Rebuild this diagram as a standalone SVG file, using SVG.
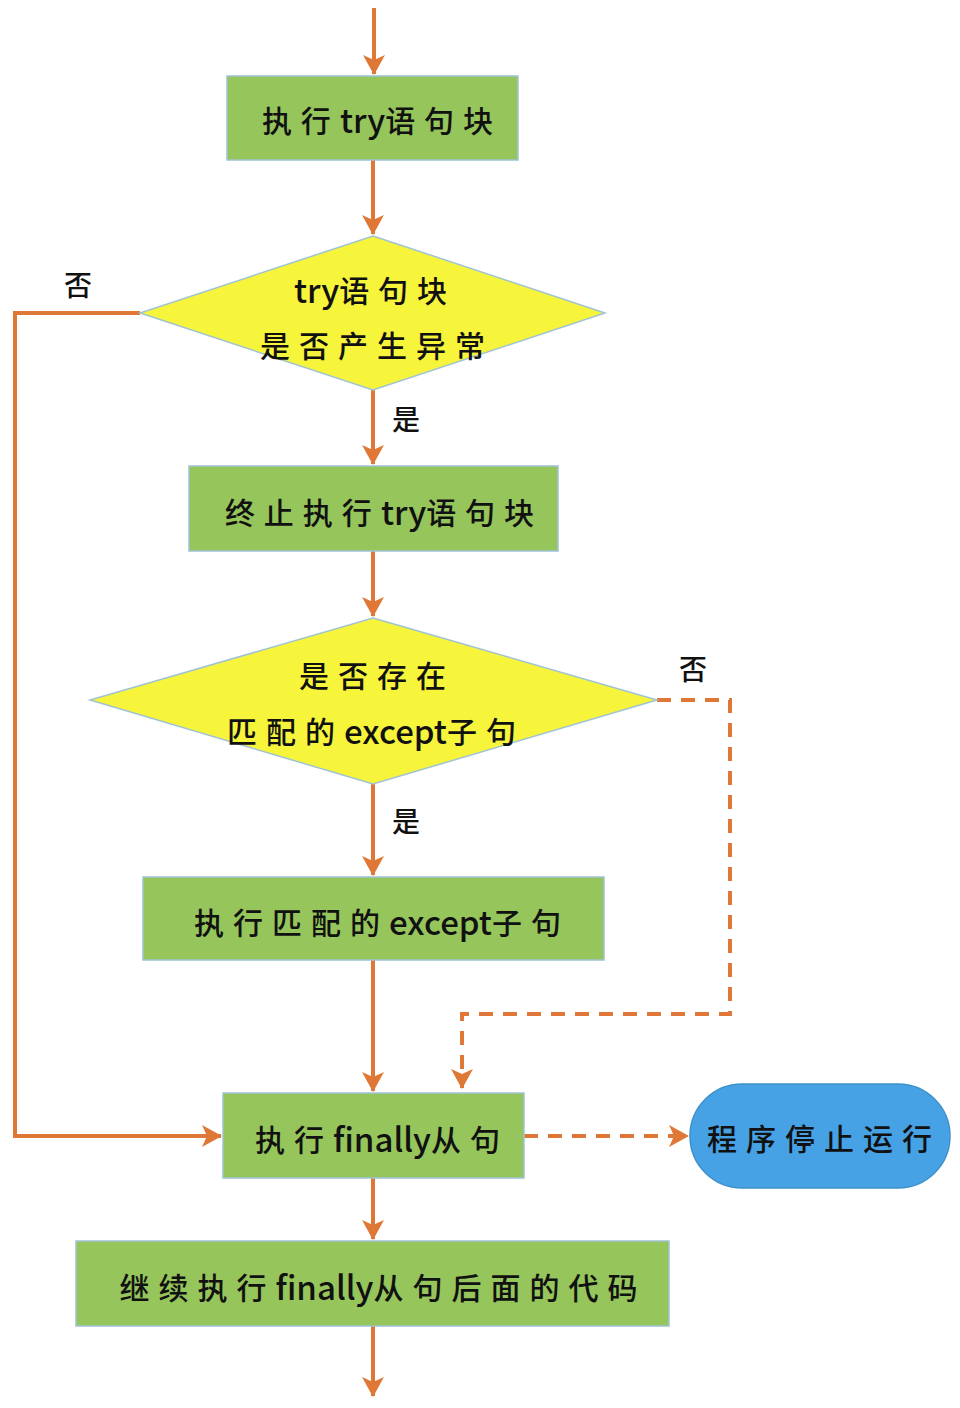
<svg xmlns="http://www.w3.org/2000/svg" width="960" height="1408" viewBox="0 0 960 1408">
<style>
.box{fill:#95c55b;stroke:#9fc3d4;stroke-width:1.5}
.dia{fill:#f7f43c;stroke:#9fc3d4;stroke-width:1.5}
.term{fill:#46a2e4;stroke:#3d92cc;stroke-width:1.5}
.t{font-family:"Noto Sans CJK SC","Noto Sans",sans-serif;font-size:30px;font-weight:500;fill:#111;text-anchor:middle;dominant-baseline:central;letter-spacing:9px}
.e{font-size:33px;letter-spacing:0px}
.lbl{font-family:"Noto Sans CJK SC","Noto Sans",sans-serif;font-size:28px;font-weight:500;fill:#111;text-anchor:middle;dominant-baseline:central}
.ln{fill:none;stroke:#df7836;stroke-width:4}
.dash{stroke-dasharray:14 10}
</style>
<defs>
<marker id="ah" viewBox="0 0 20 22" refX="19" refY="11" markerWidth="20" markerHeight="22" markerUnits="userSpaceOnUse" orient="auto">
<path d="M0,0 L20,11 L0,22 L5,11 Z" fill="#df7836"/>
</marker>
</defs>
<rect width="960" height="1408" fill="#ffffff"/>
<g id="connectors">
<path class="ln" d="M374,8 V74" marker-end="url(#ah)"/>
<path class="ln" d="M373,160 V234" marker-end="url(#ah)"/>
<path class="ln" d="M140,313 H15 V1136 H221" marker-end="url(#ah)"/>
<path class="ln" d="M373,390 V464" marker-end="url(#ah)"/>
<path class="ln" d="M373,551 V616" marker-end="url(#ah)"/>
<path class="ln dash" d="M657,700 H730 V1014 H462 V1088" marker-end="url(#ah)"/>
<path class="ln" d="M373,784 V875" marker-end="url(#ah)"/>
<path class="ln" d="M373,960 V1091" marker-end="url(#ah)"/>
<path class="ln dash" d="M524,1136 H688" marker-end="url(#ah)"/>
<path class="ln" d="M373,1178 V1239" marker-end="url(#ah)"/>
<path class="ln" d="M373,1326 V1396" marker-end="url(#ah)"/>
<text class="lbl" x="78" y="284">否</text>
<text class="lbl" x="406" y="418">是</text>
<text class="lbl" x="693" y="668">否</text>
<text class="lbl" x="406" y="820">是</text>
</g>
<g id="n1">
<rect class="box" x="227" y="76" width="291" height="84"/>
<text class="t" x="382" y="119">执行<tspan class="e">try</tspan>语句块</text>
</g>
<g id="n2">
<polygon class="dia" points="373,236 605,313 373,390 140,313"/>
<text class="t" x="375" y="289"><tspan class="e">try</tspan>语句块</text>
<text class="t" x="377" y="344">是否产生异常</text>
</g>
<g id="n3">
<rect class="box" x="189" y="466" width="369" height="85"/>
<text class="t" x="384" y="511">终止执行<tspan class="e">try</tspan>语句块</text>
</g>
<g id="n4">
<polygon class="dia" points="373,618 657,700 373,784 90,700"/>
<text class="t" x="377" y="674">是否存在</text>
<text class="t" x="376" y="730">匹配的<tspan class="e">except</tspan>子句</text>
</g>
<g id="n5">
<rect class="box" x="143" y="877" width="461" height="83"/>
<text class="t" x="382" y="921">执行匹配的<tspan class="e">except</tspan>子句</text>
</g>
<g id="n6">
<rect class="box" x="223" y="1093" width="301" height="85"/>
<text class="t" x="382" y="1138">执行<tspan class="e">finally</tspan>从句</text>
</g>
<g id="n7">
<rect class="term" x="690" y="1084" width="260" height="104" rx="52" ry="52"/>
<text class="t" x="824" y="1137">程序停止运行</text>
</g>
<g id="n8">
<rect class="box" x="76" y="1241" width="593" height="85"/>
<text class="t" x="383" y="1286">继续执行<tspan class="e">finally</tspan>从句后面的代码</text>
</g>
</svg>
